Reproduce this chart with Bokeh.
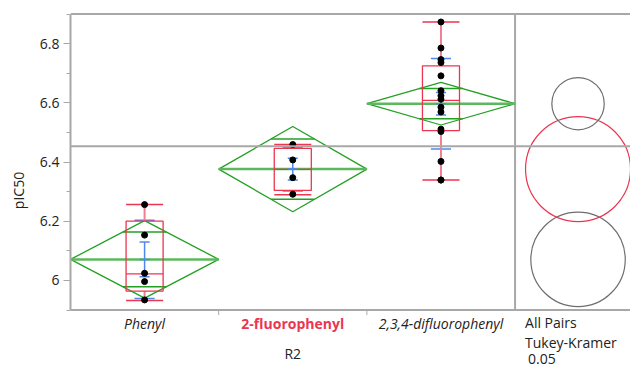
from bokeh.plotting import figure
from bokeh.models import Range1d, FixedTicker, CustomJSTickFormatter, Span
from bokeh.core.properties import value
from bokeh.embed import file_html
from bokeh.resources import INLINE
import math

# ---------------- data ----------------
categories = ["Phenyl", "2-fluorophenyl", "2,3,4-difluorophenyl"]
pts_phenyl = [6.256, 6.153, 6.024, 5.996, 5.934]
pts_2f = [6.459, 6.407, 6.347, 6.291]
pts_234 = [6.873, 6.785, 6.746, 6.736, 6.691, 6.641, 6.624, 6.612,
           6.585, 6.569, 6.511, 6.503, 6.402, 6.339, 6.339]
group_mean = [6.071, 6.376, 6.597]
ci95_half = [0.131, 0.144, 0.072]
std_err = [0.059, 0.037, 0.038]
std_dev = [0.132, 0.074, 0.153]
q1 = [5.964, 6.304, 6.506]
median = [6.022, 6.375, 6.608]
q3 = [6.200, 6.446, 6.725]
whisker_lo = [5.932, 6.289, 6.339]
whisker_hi = [6.256, 6.459, 6.873]
circle_radius = [0.1595, 0.1774, 0.0885]
grand_mean = 6.453
y_ticks = [6.0, 6.2, 6.4, 6.6, 6.8]
y_minor = [5.9, 6.1, 6.3, 6.5, 6.7, 6.9]
x_label = "R2"
y_label = "pIC50"
compare_text = ["All Pairs", "Tukey-Kramer", "0.05"]

# ---------------- styles / layout ----------------
FONT = "Open Sans"
GREEN = "#23a023"
GREEN_L = "#5cb85c"
RED = "#ec3550"
RED_L = "#f07f90"
BLUE = "#4f88ef"
GRAY = "#a8a8a8"
CGRAY = "#6e6e6e"
TXT = "#222222"

W, H = 630, 368
BL, BT = 70, 12
Y0, Y1 = 5.9, 6.9          # axis span
X0, X1 = 0.0, 3.779
PPU_Y = 296.0               # pixels per pIC50 unit
frame_h = H - BT
y_end = Y1 + 1.5 / PPU_Y
y_start = y_end - frame_h / PPU_Y
ppu_x = (W - BL) / (X1 - X0)

p = figure(width=W, height=H, output_backend="svg", toolbar_location=None,
           x_range=Range1d(X0, X1), y_range=Range1d(y_start, y_end),
           min_border_left=BL, min_border_right=0, min_border_top=BT,
           min_border_bottom=0, x_axis_location=None,
           background_fill_color="white", border_fill_color="white",
           outline_line_color=None)
p.grid.visible = False

# y axis
ya = p.yaxis[0]
ya.bounds = (Y0, Y1)
ya.ticker = FixedTicker(ticks=y_ticks, minor_ticks=y_minor)
ya.formatter = CustomJSTickFormatter(code="return String(Math.round(tick*10)/10)")
ya.axis_line_color = GRAY
ya.axis_line_width = 2
ya.major_tick_line_color = GRAY
ya.minor_tick_line_color = GRAY
ya.major_tick_out = 7
ya.major_tick_in = 0
ya.minor_tick_out = 4
ya.minor_tick_in = 0
ya.major_label_standoff = 4
ya.major_label_text_font = FONT
ya.major_label_text_font_size = "14px"
ya.major_label_text_color = TXT
ya.axis_label = y_label
ya.axis_label_text_font = FONT
ya.axis_label_text_font_size = "14px"
ya.axis_label_text_font_style = "normal"
ya.axis_label_text_color = TXT
ya.axis_label_standoff = 9

n = len(categories)
cx = [i + 0.5 for i in range(n)]

def below(px):
    return Y0 - px / PPU_Y

# frame lines: bottom axis line, top line, divider, grand mean
p.segment(x0=[X0, X0, n], x1=[X1, X1, n], y0=[Y0, Y1, Y0], y1=[Y0, Y1, Y1],
          line_color=GRAY, line_width=2)
p.add_layout(Span(location=grand_mean, dimension="width", line_color=GRAY, line_width=2))
# category boundary ticks
p.segment(x0=[1, 2], x1=[1, 2], y0=[Y0, Y0], y1=[below(5)] * 2, line_color=GRAY,
          line_width=1)

# means diamonds
xs = [[i, i + 0.5, i + 1, i + 0.5] for i in range(n)]
ys = [[m, m + c, m, m - c] for m, c in zip(group_mean, ci95_half)]
p.patches(xs, ys, fill_color=None, line_color=GREEN, line_width=1.3)
p.segment(x0=[i for i in range(n)], x1=[i + 1 for i in range(n)], y0=group_mean,
          y1=group_mean, line_color=GREEN_L, line_width=2.5)
ov_w = 0.5 * (1 - 1 / math.sqrt(2))
for sgn in (1, -1):
    yy = [m + sgn * c / math.sqrt(2) for m, c in zip(group_mean, ci95_half)]
    p.segment(x0=[c - ov_w for c in cx], x1=[c + ov_w for c in cx], y0=yy, y1=yy,
              line_color=GREEN, line_width=1.5)

# std dev lines (blue)
sdw = 0.068
for sgn in (1, -1):
    yy = [m + sgn * s for m, s in zip(group_mean, std_dev)]
    p.segment(x0=[c - sdw for c in cx], x1=[c + sdw for c in cx], y0=yy, y1=yy,
              line_color=BLUE, line_width=1.5)

# box plots (red)
bw = 0.125
p.segment(x0=cx, x1=cx, y0=q3, y1=whisker_hi, line_color=RED_L, line_width=2)
p.segment(x0=cx, x1=cx, y0=q1, y1=whisker_lo, line_color=RED_L, line_width=2)
p.quad(left=[c - bw for c in cx], right=[c + bw for c in cx], top=q3, bottom=q1,
       fill_color=None, line_color=RED, line_width=1.3)
p.segment(x0=[c - bw for c in cx], x1=[c + bw for c in cx], y0=median, y1=median,
          line_color=RED, line_width=1.3)
for ww in (whisker_lo, whisker_hi):
    p.segment(x0=[c - bw for c in cx], x1=[c + bw for c in cx], y0=ww, y1=ww,
              line_color=RED, line_width=1.5)

# mean error bars (blue)
ew = 0.034
lo = [m - s for m, s in zip(group_mean, std_err)]
hi = [m + s for m, s in zip(group_mean, std_err)]
p.segment(x0=cx, x1=cx, y0=lo, y1=hi, line_color=BLUE, line_width=1.5)
for yy in (lo, hi, group_mean):
    p.segment(x0=[c - ew for c in cx], x1=[c + ew for c in cx], y0=yy, y1=yy,
              line_color=BLUE, line_width=1.5)

# points
for i, pts in enumerate([pts_phenyl, pts_2f, pts_234]):
    p.scatter(x=[cx[i]] * len(pts), y=pts, size=6, color="black")

# comparison circles
circle_x = 3.425
p.circle(x=[circle_x] * n, y=group_mean, radius=circle_radius, radius_dimension="y",
         fill_color=None, line_color=[CGRAY, RED, CGRAY], line_width=1.2)

# category labels and axis title
styles = [("italic", TXT), ("bold", RED), ("italic", TXT)]
for c, lab, (st, col) in zip(cx, categories, styles):
    p.text(x=[c], y=[below(13.5)], text=[lab], text_align="center",
           text_baseline="middle", text_font=value(FONT), text_font_size="14px",
           text_font_style=st, text_color=col)
p.text(x=[n / 2], y=[below(43)], text=[x_label], text_align="center",
       text_baseline="middle", text_font=value(FONT), text_font_size="14px",
       text_color=TXT)

# comparison circle legend text
tx = [n + 10 / ppu_x, n + 10 / ppu_x, n + 13 / ppu_x]
ty = [below(12.5), below(32.5), below(48.5)]
p.text(x=tx, y=ty, text=compare_text, text_align="left", text_baseline="middle",
       text_font=value(FONT), text_font_size="14px", text_color=TXT)

open("out.html", "w").write(file_html(p, INLINE))
